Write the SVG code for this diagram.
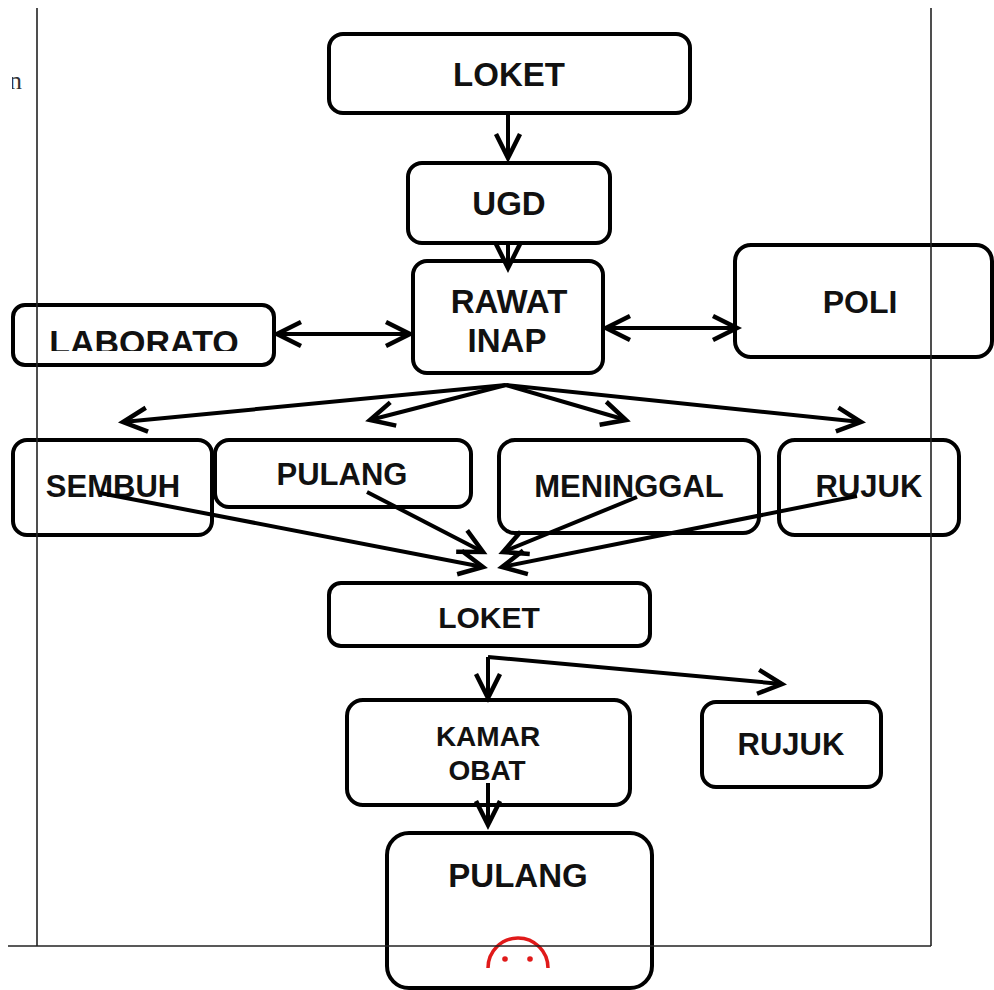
<svg xmlns="http://www.w3.org/2000/svg" width="994" height="990" viewBox="0 0 994 990">
<style>
.box{fill:#fff;stroke:#000;stroke-width:4}
.lbl{font-family:"Liberation Sans",Arial,sans-serif;font-weight:bold;fill:#111;text-anchor:middle}
.ln{fill:none;stroke:#000;stroke-width:4}
.frame{fill:none;stroke:#222;stroke-width:1.6}
</style>
<defs>
<marker id="ah" markerUnits="userSpaceOnUse" markerWidth="32" markerHeight="32" viewBox="-28 -16 32 32" refX="0" refY="0" orient="auto-start-reverse" overflow="visible">
<path d="M-24,-12 L0,0 L-24,12" fill="none" stroke="#000" stroke-width="4.5" stroke-linejoin="miter"/>
</marker>
<clipPath id="labclip"><rect x="0" y="300" width="300" height="51"/></clipPath>
<clipPath id="nclip"><rect x="12" y="60" width="20" height="40"/></clipPath>
</defs>
<g id="n-loket1"><rect class="box" x="329" y="34" width="361" height="79" rx="14"/><text class="lbl" x="509" y="86" font-size="33">LOKET</text></g>
<g id="n-ugd"><rect class="box" x="408" y="163" width="202" height="80" rx="14"/><text class="lbl" x="509" y="215" font-size="33">UGD</text></g>
<g id="n-rawat"><rect class="box" x="413" y="261" width="190" height="112" rx="14"/><text class="lbl" x="509" y="313" font-size="33">RAWAT</text><text class="lbl" x="507" y="352" font-size="33">INAP</text></g>
<g id="n-lab"><rect class="box" x="13" y="305" width="261" height="60" rx="12"/><text class="lbl" x="144" y="354" font-size="34" clip-path="url(#labclip)">LABORATO</text></g>
<g id="n-poli"><rect class="box" x="735" y="245" width="257" height="112" rx="16"/><text class="lbl" x="860" y="313" font-size="32">POLI</text></g>
<g id="n-sembuh"><rect class="box" x="13" y="440" width="199" height="95" rx="14"/><text class="lbl" x="113" y="497" font-size="31">SEMBUH</text></g>
<g id="n-pulang1"><rect class="box" x="215" y="440" width="256" height="67" rx="14"/><text class="lbl" x="342" y="485" font-size="31">PULANG</text></g>
<g id="n-meninggal"><rect class="box" x="499" y="440" width="260" height="93" rx="16"/><text class="lbl" x="629" y="497" font-size="31">MENINGGAL</text></g>
<g id="n-rujuk1"><rect class="box" x="779" y="440" width="180" height="95" rx="16"/><text class="lbl" x="869" y="497" font-size="31">RUJUK</text></g>
<g id="n-loket2"><rect class="box" x="329" y="583" width="321" height="63" rx="12"/><text class="lbl" x="489" y="628" font-size="30">LOKET</text></g>
<g id="n-kamar"><rect class="box" x="347" y="700" width="283" height="105" rx="16"/><text class="lbl" x="488" y="746" font-size="28">KAMAR</text><text class="lbl" x="487" y="780" font-size="28">OBAT</text></g>
<g id="n-rujuk2"><rect class="box" x="702" y="702" width="179" height="85" rx="14"/><text class="lbl" x="791" y="755" font-size="31">RUJUK</text></g>
<g id="n-pulang2"><rect class="box" x="387" y="833" width="265" height="155" rx="22"/><text class="lbl" x="518" y="887" font-size="33">PULANG</text>
<path d="M488,968 A30,30 0 0 1 548,968" fill="none" stroke="#e01a1a" stroke-width="3.5"/>
<circle cx="505" cy="959" r="2.8" fill="#e01a1a"/><circle cx="530" cy="959" r="2.8" fill="#e01a1a"/></g>
<g id="connectors">
<path class="ln" d="M508,113 L508,158" marker-end="url(#ah)"/>
<path class="ln" d="M508,243 L508,268" marker-end="url(#ah)"/>
<path class="ln" d="M277,334 L410,334" marker-start="url(#ah)" marker-end="url(#ah)"/>
<path class="ln" d="M606,328 L737,328" marker-start="url(#ah)" marker-end="url(#ah)"/>
<path class="ln" d="M506,385 L123,422" marker-end="url(#ah)"/>
<path class="ln" d="M506,385 L370,420" marker-end="url(#ah)"/>
<path class="ln" d="M506,385 L626,420" marker-end="url(#ah)"/>
<path class="ln" d="M506,385 L861,422" marker-end="url(#ah)"/>
<path class="ln" d="M100,493 L483,567" marker-end="url(#ah)"/>
<path class="ln" d="M367,492 L483,552" marker-end="url(#ah)"/>
<path class="ln" d="M637,497 L503,552" marker-end="url(#ah)"/>
<path class="ln" d="M857,496 L502,567" marker-end="url(#ah)"/>
<path class="ln" d="M488,657 L488,698" marker-end="url(#ah)"/>
<path class="ln" d="M488,657 L782,684" marker-end="url(#ah)"/>
<path class="ln" d="M488,783 L488,825" marker-end="url(#ah)"/>
</g>
<g id="frame">
<line class="frame" x1="37" y1="8" x2="37" y2="946"/>
<line class="frame" x1="931" y1="8" x2="931" y2="946"/>
<line class="frame" x1="8" y1="946" x2="931" y2="946"/>
<text x="9" y="89" clip-path="url(#nclip)" font-family="Liberation Serif,serif" font-size="26" fill="#333">n</text>
</g>
</svg>
